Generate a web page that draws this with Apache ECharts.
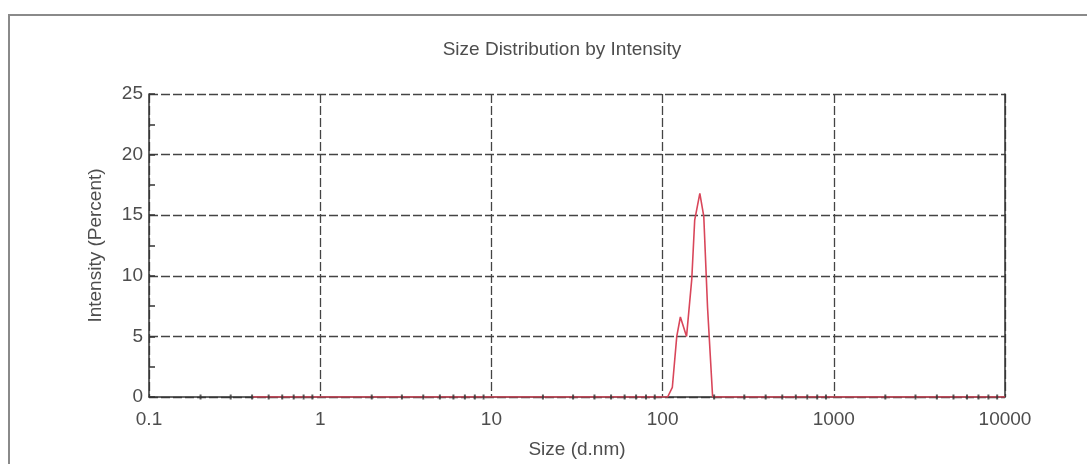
<!DOCTYPE html>
<html>
<head>
<meta charset="utf-8">
<script src="https://cdn.jsdelivr.net/npm/echarts@6/dist/echarts.min.js"></script>
<style>
html,body{margin:0;padding:0;background:#fff;}
#chart{width:1087px;height:464px;}
</style>
</head>
<body>
<div id="chart"></div>
<script>
const titleText = 'Size Distribution by Intensity';
const xAxisName = 'Size (d.nm)';
const yAxisName = 'Intensity (Percent)';

const sizes = [
  0.4, 0.4632, 0.5365, 0.6213, 0.7195, 0.8332, 0.9649, 1.117, 1.294, 1.499,
  1.736, 2.01, 2.328, 2.696, 3.122, 3.615, 4.187, 4.849, 5.615, 6.503,
  7.531, 8.721, 10.1, 11.7, 13.54, 15.69, 18.17, 21.04, 24.36, 28.21,
  32.67, 37.84, 43.82, 50.75, 58.77, 68.06, 78.82, 91.28,
  107, 114, 121, 127, 131, 138, 148, 154, 165, 174, 183, 196,
  220.2, 255, 295.3, 342, 396.1, 458.7, 531.2, 615.1, 712.4, 825,
  955.4, 1106, 1281, 1484, 1718, 1990, 2305, 2669, 3091, 3580,
  4145, 4801, 5560, 6439, 7456, 8635, 10000
];
const intensity = [
  0, 0, 0, 0, 0, 0, 0, 0, 0, 0,
  0, 0, 0, 0, 0, 0, 0, 0, 0, 0,
  0, 0, 0, 0, 0, 0, 0, 0, 0, 0,
  0, 0, 0, 0, 0, 0, 0, 0,
  0, 0.8, 5.0, 6.6, 6.0, 5.0, 9.7, 14.6, 16.8, 14.9, 7.4, 0,
  0, 0, 0, 0, 0, 0, 0, 0, 0, 0,
  0, 0, 0, 0, 0, 0, 0, 0, 0, 0,
  0, 0, 0, 0, 0, 0, 0
];
const xMinorTicks = [
  0.2, 0.3, 0.4, 0.5, 0.6, 0.7, 0.8, 0.9,
  2, 3, 4, 5, 6, 7, 8, 9,
  20, 30, 40, 50, 60, 70, 80, 90,
  200, 300, 400, 500, 600, 700, 800, 900,
  2000, 3000, 4000, 5000, 6000, 7000, 8000, 9000
];

const FONT = 'Liberation Sans, Arial, sans-serif';
const TXT = '#4d4d4d';
const GRID = '#444';

const chart = echarts.init(document.getElementById('chart'), null, {renderer: 'canvas'});
const data = sizes.map((s, i) => [s, intensity[i]]);
const tickData = xMinorTicks.map(v => [v, 0]);

chart.setOption({
  backgroundColor: '#fff',
  animation: false,
  title: {
    text: titleText,
    left: 557,
    textAlign: 'center',
    top: 35,
    textStyle: {fontFamily: FONT, fontSize: 19, fontWeight: 'normal', color: TXT}
  },
  graphic: [{
    type: 'rect',
    shape: {x: 9, y: 15, width: 1100, height: 480},
    style: {fill: 'none', stroke: '#8a8a8a', lineWidth: 2},
    silent: true,
    z: -1
  }],
  grid: {left: 149, right: 82, top: 94, bottom: 67},
  xAxis: {
    type: 'log',
    logBase: 10,
    min: 0.1,
    max: 10000,
    name: xAxisName,
    nameLocation: 'middle',
    nameGap: 43,
    nameTextStyle: {fontFamily: FONT, fontSize: 19, color: TXT},
    axisLine: {show: true, lineStyle: {color: '#333', width: 1.5}},
    axisTick: {show: false},
    axisLabel: {
      fontFamily: FONT, fontSize: 19, color: TXT, margin: 13,
      formatter: v => String(v)
    },
    splitLine: {show: true, lineStyle: {color: GRID, width: 1.3, type: [9, 3]}}
  },
  yAxis: [{
    type: 'value',
    min: 0,
    max: 25,
    interval: 5,
    name: yAxisName,
    nameLocation: 'middle',
    nameGap: 44,
    nameRotate: 90,
    nameTextStyle: {fontFamily: FONT, fontSize: 19, color: TXT},
    axisLine: {show: true, lineStyle: {color: '#333', width: 1.5}},
    axisTick: {show: true, inside: true, length: 6, lineStyle: {color: '#333', width: 1.5}},
    minorTick: {show: true, splitNumber: 2, length: 6, lineStyle: {color: '#333', width: 1.5}},
    axisLabel: {fontFamily: FONT, fontSize: 19, color: TXT, margin: 6},
    splitLine: {show: true, lineStyle: {color: GRID, width: 1.3, type: [9, 3]}}
  }, {
    type: 'value',
    position: 'right',
    min: 0,
    max: 25,
    interval: 5,
    axisLine: {show: true, lineStyle: {color: '#333', width: 1.5}},
    axisTick: {show: false},
    axisLabel: {show: false},
    splitLine: {show: false}
  }],
  series: [{
    type: 'line',
    data: data,
    showSymbol: false,
    symbol: 'none',
    smooth: false,
    lineStyle: {color: '#d9465a', width: 1.6},
    z: 5
  }, {
    type: 'scatter',
    data: tickData,
    symbol: 'rect',
    symbolSize: [2, 5],
    itemStyle: {color: '#333'},
    silent: true,
    z: 6
  }]
});
</script>
</body>
</html>
